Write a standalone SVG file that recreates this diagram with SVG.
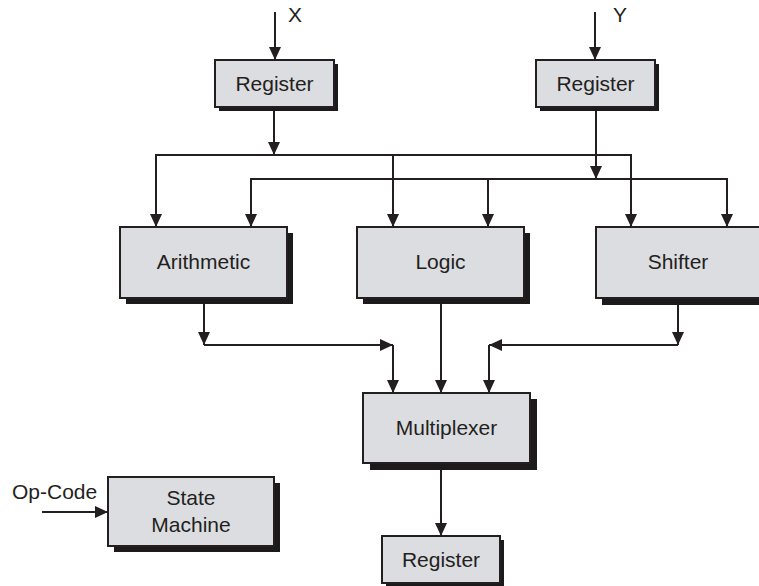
<svg xmlns="http://www.w3.org/2000/svg" width="759" height="586" viewBox="0 0 759 586">
  <defs>
    <style>
      .box { fill: #dcdde0; stroke: #231f20; stroke-width: 2; }
      .shadow { fill: #1c1a1b; }
      .label { font-family: "Liberation Sans", Arial, sans-serif; font-size: 21px; fill: #231f20; text-anchor: middle; }
      .io { font-family: "Liberation Sans", Arial, sans-serif; font-size: 21px; fill: #231f20; }
      .wire { fill: none; stroke: #231f20; stroke-width: 2; }
      .arrow { marker-end: url(#head); }
    </style>
    <marker id="head" markerUnits="userSpaceOnUse" markerWidth="13" markerHeight="12" refX="13" refY="6" orient="auto">
      <path d="M0,0 L13,6 L0,12 z" fill="#231f20"/>
    </marker>
  </defs>

  <rect width="759" height="586" fill="#ffffff"/>

  <!-- connectors -->
  <g id="connectors">
    <!-- inputs -->
    <line class="wire arrow" x1="275" y1="12" x2="275" y2="60"/>
    <line class="wire arrow" x1="595" y1="12" x2="595" y2="60"/>
    <line class="wire arrow" x1="42" y1="512" x2="108" y2="512"/>

    <!-- X operand bus -->
    <line class="wire arrow" x1="274" y1="108" x2="274" y2="155"/>
    <polyline class="wire" points="156,227 156,155 631,155 631,227"/>
    <line class="wire arrow" x1="156" y1="155" x2="156" y2="227"/>
    <line class="wire arrow" x1="393" y1="155" x2="393" y2="227"/>
    <line class="wire arrow" x1="631" y1="155" x2="631" y2="227"/>

    <!-- Y operand bus -->
    <line class="wire arrow" x1="596" y1="108" x2="596" y2="179"/>
    <polyline class="wire" points="251,227 251,179 727,179 727,227"/>
    <line class="wire arrow" x1="251" y1="179" x2="251" y2="227"/>
    <line class="wire arrow" x1="488" y1="179" x2="488" y2="227"/>
    <line class="wire arrow" x1="727" y1="179" x2="727" y2="227"/>

    <!-- unit outputs to multiplexer -->
    <line class="wire arrow" x1="204" y1="304" x2="204" y2="345"/>
    <line class="wire arrow" x1="204" y1="345" x2="393" y2="345"/>
    <line class="wire arrow" x1="393" y1="345" x2="393" y2="393"/>
    <line class="wire arrow" x1="441" y1="304" x2="441" y2="393"/>
    <line class="wire arrow" x1="678" y1="305" x2="678" y2="345"/>
    <line class="wire arrow" x1="678" y1="345" x2="489" y2="345"/>
    <line class="wire arrow" x1="489" y1="345" x2="489" y2="393"/>

    <!-- multiplexer to output register -->
    <line class="wire arrow" x1="441" y1="470" x2="441" y2="536"/>
  </g>

  <text class="io" x="288" y="22">X</text>
  <text class="io" x="613" y="22">Y</text>
  <text class="io" x="12" y="499">Op-Code</text>

  <g id="reg-x">
    <rect class="shadow" x="219" y="64" width="119" height="47"/>
    <rect class="box" x="215" y="60" width="119" height="47"/>
    <text class="label" x="274.5" y="91">Register</text>
  </g>

  <g id="reg-y">
    <rect class="shadow" x="540" y="64" width="119" height="47"/>
    <rect class="box" x="536" y="60" width="119" height="47"/>
    <text class="label" x="595.5" y="91">Register</text>
  </g>

  <g id="arithmetic">
    <rect class="shadow" x="126" y="233" width="167" height="71"/>
    <rect class="box" x="120" y="227" width="167" height="71"/>
    <text class="label" x="203.5" y="269">Arithmetic</text>
  </g>

  <g id="logic">
    <rect class="shadow" x="363" y="233" width="167" height="71"/>
    <rect class="box" x="357" y="227" width="167" height="71"/>
    <text class="label" x="440.5" y="269">Logic</text>
  </g>

  <g id="shifter">
    <rect class="shadow" x="602" y="233" width="167" height="72"/>
    <rect class="box" x="596" y="227" width="167" height="71"/>
    <text class="label" x="678" y="269">Shifter</text>
  </g>

  <g id="multiplexer">
    <rect class="shadow" x="370" y="399" width="167" height="71"/>
    <rect class="box" x="363" y="393" width="167" height="70"/>
    <text class="label" x="446.5" y="435">Multiplexer</text>
  </g>

  <g id="state-machine">
    <rect class="shadow" x="114" y="483" width="166" height="69"/>
    <rect class="box" x="108" y="477" width="166" height="69"/>
    <text class="label" x="191" y="505">State</text>
    <text class="label" x="191" y="532">Machine</text>
  </g>

  <g id="reg-out">
    <rect class="shadow" x="386" y="540" width="118" height="47"/>
    <rect class="box" x="382" y="536" width="118" height="47"/>
    <text class="label" x="441" y="567">Register</text>
  </g>
</svg>
